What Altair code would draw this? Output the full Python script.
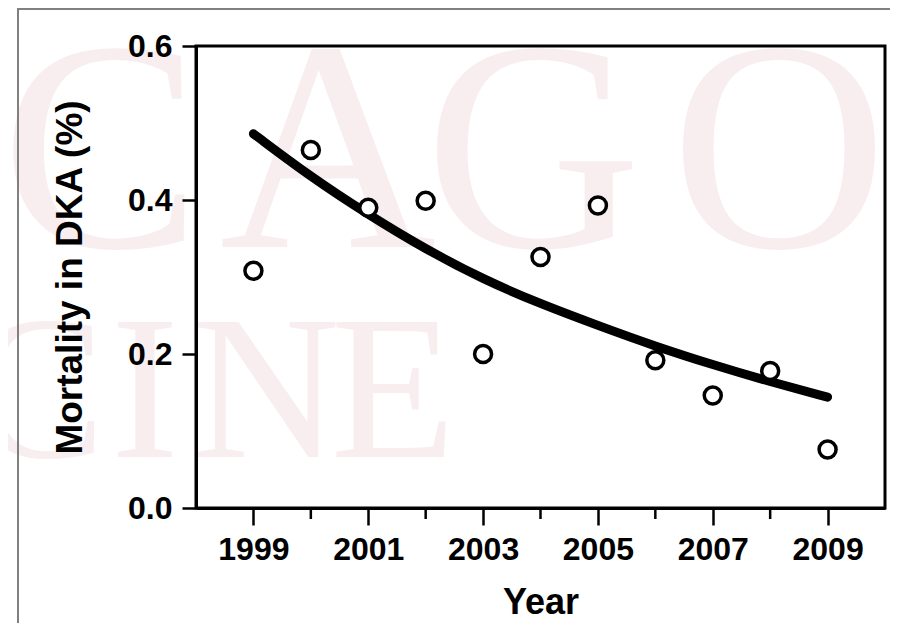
import altair as alt
import pandas as pd

# ---- data ----
years = [1999, 2000, 2001, 2002, 2003, 2004, 2005, 2006, 2007, 2008, 2009]
mortality = [0.308, 0.465, 0.390, 0.399, 0.200, 0.326, 0.393, 0.192, 0.146, 0.178, 0.076]
trend = [0.486, 0.430, 0.381, 0.336, 0.297, 0.265, 0.237, 0.210, 0.186, 0.164, 0.144]
x_tick_values = [1999, 2001, 2003, 2005, 2007, 2009]
minor_years = [2000, 2002, 2004, 2006, 2008]
y_tick_values = [0.0, 0.2, 0.4, 0.6]

# watermark letters (background decoration)
wm_top = ["C", "A", "G", "O"]
wm_bottom = ["C", "I", "N", "E"]

W, H = 689, 462
FONT = "Liberation Sans"
WM_COLOR = "#f8eef0"

df = pd.DataFrame({"year": years, "mortality": mortality, "trend": trend})
df_minor = pd.DataFrame({"year": minor_years})

x_axis = alt.Axis(
    values=x_tick_values, format="d", title="Year", grid=False, zindex=1,
    tickSize=17, tickWidth=2.5, tickColor="black",
    domainWidth=3, domainColor="black",
    labelFont=FONT, labelFontSize=32, labelFontWeight="bold", labelColor="black",
    labelPadding=9,
    titleFont=FONT, titleFontSize=36, titleFontWeight="bold", titleColor="black",
    titleY=105, titleBaseline="alphabetic",
)
x_def = alt.X("year:Q", scale=alt.Scale(domain=[1998, 2010], nice=False, zero=False), axis=x_axis)

y_axis = alt.Axis(
    values=y_tick_values, format=".1f", title="Mortality in DKA (%)", grid=False, zindex=1,
    tickSize=14, tickWidth=2.5, tickColor="black",
    domainWidth=3, domainColor="black",
    labelFont=FONT, labelFontSize=32, labelFontWeight="bold", labelColor="black",
    labelPadding=10,
    titleFont=FONT, titleFontSize=37, titleFontWeight="bold", titleColor="black",
    titleX=-115, titleY=H / 2, titleAngle=270, titleBaseline="alphabetic",
)


def y_def(field):
    return alt.Y(f"{field}:Q", scale=alt.Scale(domain=[0, 0.6], nice=False), axis=y_axis)


# watermark layers
wm_layers = []
top_pos = [-95, 132, 337, 583]
for ch, px in zip(wm_top, top_pos):
    wm_layers.append(
        alt.Chart(pd.DataFrame({"ch": [ch]})).mark_text(
            font="Liberation Serif", fontSize=300, color=WM_COLOR,
            align="center", baseline="alphabetic",
        ).encode(text="ch:N", x=alt.value(px), y=alt.value(201))
    )
bottom_pos = [-159, -51, 70, 197]
for ch, px in zip(wm_bottom, bottom_pos):
    wm_layers.append(
        alt.Chart(pd.DataFrame({"ch": [ch]})).mark_text(
            font="Liberation Serif", fontSize=205, color=WM_COLOR,
            align="center", baseline="alphabetic",
        ).encode(text="ch:N", x=alt.value(px), y=alt.value(411))
    )

one = pd.DataFrame({"k": [0]})
border_top = alt.Chart(one).mark_rule(color="#808080", strokeWidth=2).encode(
    x=alt.value(-178), x2=alt.value(W + 60), y=alt.value(-37)
)
border_left = alt.Chart(one).mark_rule(color="#808080", strokeWidth=2).encode(
    x=alt.value(-178), y=alt.value(-38), y2=alt.value(H + 200)
)

line = alt.Chart(df).mark_line(
    color="black", strokeWidth=9, strokeCap="round", interpolate="basis"
).encode(x=x_def, y=y_def("trend"))

points = alt.Chart(df).mark_circle(
    color="white", opacity=1, stroke="black", strokeWidth=3.5, size=289
).encode(x=x_def, y=y_def("mortality"))

minor = alt.Chart(df_minor).mark_rule(color="black", strokeWidth=2.5).encode(
    x=x_def, y=alt.value(H), y2=alt.value(H + 11)
)

chart = alt.layer(*wm_layers, border_top, border_left, line, points, minor).properties(
    width=W, height=H,
    autosize=alt.AutoSizeParams(type="none"),
    padding={"left": 188, "top": 38, "right": 5, "bottom": 115},
    background="white",
).configure_view(stroke="black", strokeWidth=3)

chart.save("out.html", embed_options={"renderer": "svg", "actions": False})
